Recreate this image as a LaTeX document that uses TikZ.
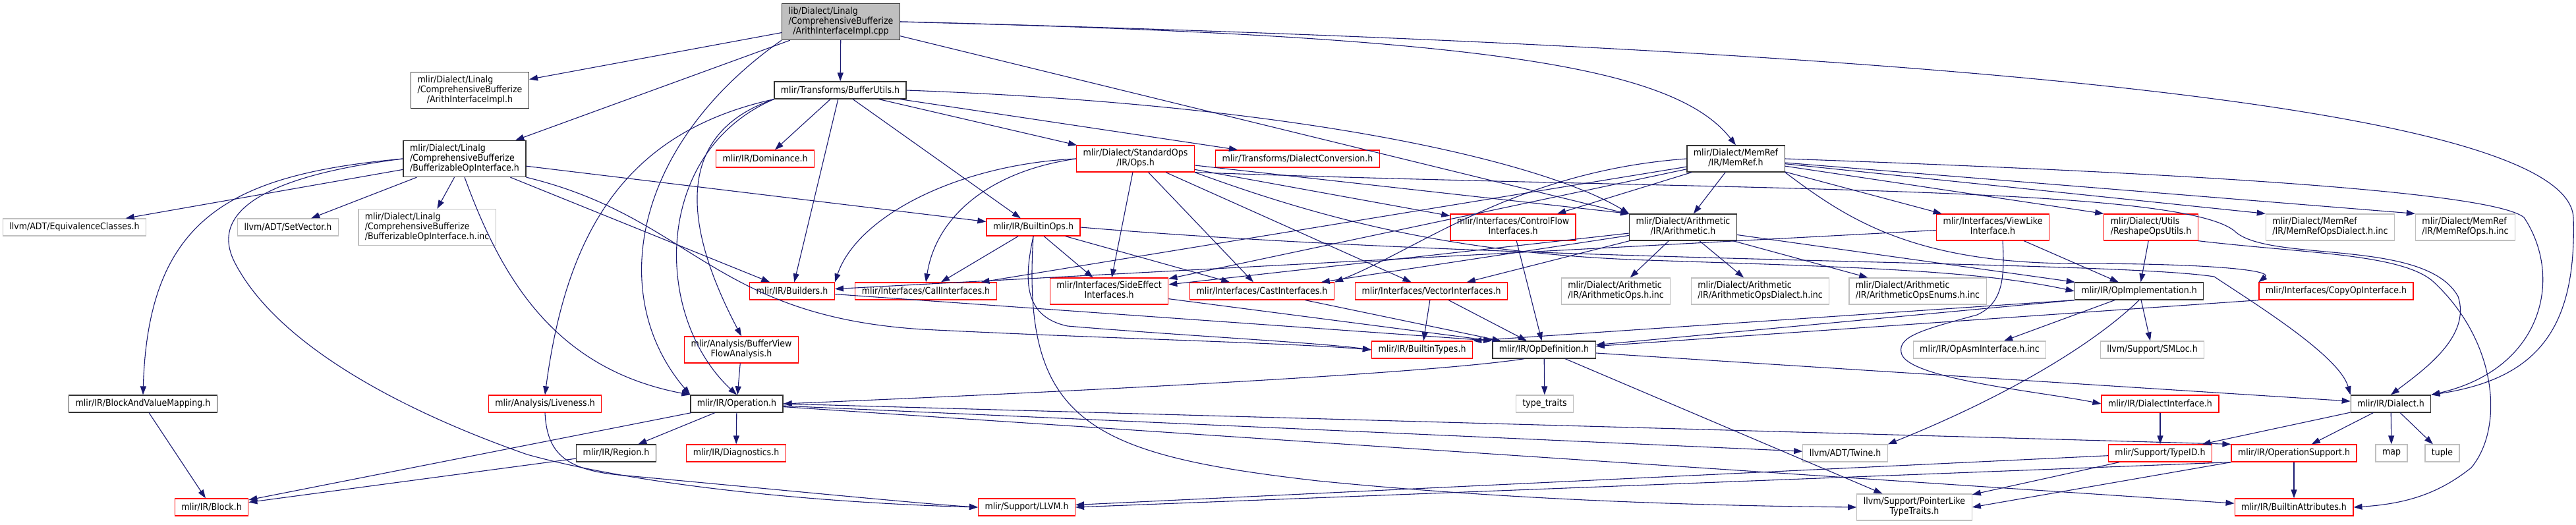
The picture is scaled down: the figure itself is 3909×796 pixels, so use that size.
\documentclass[tikz,border=0pt]{standalone}
\usepackage{fontspec}
\newfontfamily\doxfont{DejaVu Sans}[FakeStretch=0.9]
\usepackage{tikz}
\usetikzlibrary{arrows.meta}
\definecolor{edgeblue}{HTML}{191970}
\definecolor{boxgray}{HTML}{BFBFBF}
\definecolor{boxred}{HTML}{FF0000}

% label helpers: first lines left, last line centred
\newcommand{\twolines}[2]{\begin{tabular}{@{}l@{}}#1\\\multicolumn{1}{@{}c@{}}{#2}\end{tabular}}
\newcommand{\threelines}[3]{\begin{tabular}{@{}l@{}}#1\\#2\\\multicolumn{1}{@{}c@{}}{#3}\end{tabular}}

\begin{document}
\begin{tikzpicture}[
    x=1pt, y=-1pt,
    font=\doxfont\fontsize{14}{14.5}\selectfont,
    base_box/.style={rectangle, draw, line width=1.3pt, inner xsep=10pt, inner ysep=2pt, minimum height=26pt},
    doc_box/.style={base_box, draw=black!80},
    red_box/.style={base_box, draw=boxred},
    ext_box/.style={base_box, draw=boxgray},
    root_box/.style={base_box, draw=black!80, fill=boxgray},
    two/.style={minimum height=40pt},
    three/.style={minimum height=55pt},
    arrow/.style={draw=edgeblue, line width=1.1pt, -{Triangle[length=13pt, width=9pt]}}
]
\useasboundingbox (0,0) rectangle (3909,796);

% Rank 1-2
\node[root_box, three] (cpp_file) at (1276,33) {\threelines{lib/Dialect/Linalg}{/ComprehensiveBufferize}{/ArithInterfaceImpl.cpp}};
\node[doc_box, three] (arith_impl) at (713,137) {\threelines{mlir/Dialect/Linalg}{/ComprehensiveBufferize}{/ArithInterfaceImpl.h}};
\node[doc_box] (buffer_utils) at (1275,137) {mlir/Transforms/BufferUtils.h};

% Rank 3
\node[doc_box, three] (bufop_iface) at (705,241) {\threelines{mlir/Dialect/Linalg}{/ComprehensiveBufferize}{/BufferizableOpInterface.h}};
\node[red_box] (dominance) at (1161,241) {mlir/IR/Dominance.h};
\node[red_box, two] (std_ops) at (1723,241) {\twolines{mlir/Dialect/StandardOps}{/IR/Ops.h}};
\node[red_box] (dialect_conv) at (1969,241) {mlir/Transforms/DialectConversion.h};
\node[doc_box, two] (memref) at (2634,241) {\twolines{mlir/Dialect/MemRef}{/IR/MemRef.h}};

% Rank 4
\node[ext_box] (equiv_classes) at (113,345) {llvm/ADT/EquivalenceClasses.h};
\node[ext_box] (set_vector) at (437,345) {llvm/ADT/SetVector.h};
\node[ext_box, three] (bufop_inc) at (648,345) {\threelines{mlir/Dialect/Linalg}{/ComprehensiveBufferize}{/BufferizableOpInterface.h.inc}};
\node[red_box] (builtin_ops) at (1568,345) {mlir/IR/BuiltinOps.h};
\node[red_box, two] (control_flow) at (2296,345) {\twolines{mlir/Interfaces/ControlFlow}{Interfaces.h}};
\node[doc_box, two] (arith) at (2554,345) {\twolines{mlir/Dialect/Arithmetic}{/IR/Arithmetic.h}};
\node[red_box, two] (view_like) at (3024,345) {\twolines{mlir/Interfaces/ViewLike}{Interface.h}};
\node[red_box, two] (reshape_utils) at (3264,345) {\twolines{mlir/Dialect/Utils}{/ReshapeOpsUtils.h}};
\node[ext_box, two] (memref_dialect_inc) at (3536,345) {\twolines{mlir/Dialect/MemRef}{/IR/MemRefOpsDialect.h.inc}};
\node[ext_box, two] (memref_ops_inc) at (3741,345) {\twolines{mlir/Dialect/MemRef}{/IR/MemRefOps.h.inc}};

% Rank 5
\node[red_box] (builders) at (1202,442) {mlir/IR/Builders.h};
\node[red_box] (call_iface) at (1405,442) {mlir/Interfaces/CallInterfaces.h};
\node[red_box, two] (side_effect) at (1683,442) {\twolines{mlir/Interfaces/SideEffect}{Interfaces.h}};
\node[red_box] (cast_iface) at (1915,442) {mlir/Interfaces/CastInterfaces.h};
\node[red_box] (vector_iface) at (2172,442) {mlir/Interfaces/VectorInterfaces.h};
\node[ext_box, two] (arith_ops_inc) at (2452,442) {\twolines{mlir/Dialect/Arithmetic}{/IR/ArithmeticOps.h.inc}};
\node[ext_box, two] (arith_dialect_inc) at (2671,442) {\twolines{mlir/Dialect/Arithmetic}{/IR/ArithmeticOpsDialect.h.inc}};
\node[ext_box, two] (arith_enums_inc) at (2910,442) {\twolines{mlir/Dialect/Arithmetic}{/IR/ArithmeticOpsEnums.h.inc}};
\node[doc_box] (op_impl) at (3246,442) {mlir/IR/OpImplementation.h};
\node[red_box] (copy_op) at (3545,442) {mlir/Interfaces/CopyOpInterface.h};

% Rank 6
\node[red_box, two] (view_flow) at (1125,531) {\twolines{mlir/Analysis/BufferView}{FlowAnalysis.h}};
\node[red_box] (builtin_types) at (2158,531) {mlir/IR/BuiltinTypes.h};
\node[doc_box] (op_def) at (2343,531) {mlir/IR/OpDefinition.h};
\node[ext_box] (op_asm_inc) at (3004,531) {mlir/IR/OpAsmInterface.h.inc};
\node[ext_box] (sm_loc) at (3266,531) {llvm/Support/SMLoc.h};

% Rank 7
\node[doc_box] (block_mapping) at (217,613) {mlir/IR/BlockAndValueMapping.h};
\node[red_box] (liveness) at (827,613) {mlir/Analysis/Liveness.h};
\node[doc_box] (operation) at (1118,613) {mlir/IR/Operation.h};
\node[ext_box] (type_traits) at (2344,613) {type\_traits};
\node[red_box] (dialect_iface) at (3278,613) {mlir/IR/DialectInterface.h};
\node[doc_box] (dialect) at (3628,613) {mlir/IR/Dialect.h};

% Rank 8
\node[doc_box] (region) at (935,688) {mlir/IR/Region.h};
\node[red_box] (diagnostics) at (1117,688) {mlir/IR/Diagnostics.h};
\node[ext_box] (twine) at (2800,688) {llvm/ADT/Twine.h};
\node[red_box] (type_id) at (3278,688) {mlir/Support/TypeID.h};
\node[red_box] (op_support) at (3481,688) {mlir/IR/OperationSupport.h};
\node[ext_box] (std_map) at (3629,688) {map};
\node[ext_box] (std_tuple) at (3706,688) {tuple};

% Rank 9
\node[red_box] (block) at (321,770) {mlir/IR/Block.h};
\node[red_box] (llvm_h) at (1558,770) {mlir/Support/LLVM.h};
\node[ext_box, two] (pointer_like) at (2905,770) {\twolines{llvm/Support/PointerLike}{TypeTraits.h}};
\node[red_box] (builtin_attrs) at (3481,770) {mlir/IR/BuiltinAttributes.h};

% Connections from the source file
\draw[arrow] (cpp_file) -- (arith_impl);
\draw[arrow] (cpp_file) -- (bufop_iface);
\draw[arrow] (cpp_file) -- (buffer_utils);
\draw[arrow] (cpp_file.east) .. controls (2250,55) and (2540,100) .. (memref.north);
\draw[arrow] (cpp_file) -- (arith);
\draw[arrow] (cpp_file.south west) .. controls (960,220) and (920,450) .. (operation.north west);
\draw[arrow] (cpp_file.east) .. controls (2800,70) and (3895,150) .. (3905,330) .. controls (3910,500) and (3850,575) .. (dialect.north east);

% BufferizableOpInterface.h
\draw[arrow] (bufop_iface) -- (equiv_classes);
\draw[arrow] (bufop_iface) -- (set_vector);
\draw[arrow] (bufop_iface) -- (bufop_inc);
\draw[arrow] (bufop_iface) -- (builtin_ops);
\draw[arrow] (bufop_iface) -- (builders);
\draw[arrow] (bufop_iface.south east) .. controls (1050,330) and (1080,480) .. (1400,500) .. controls (1700,515) and (1950,520) .. (builtin_types.west);
\draw[arrow] (bufop_iface.south) .. controls (760,420) and (840,560) .. (operation.north west);
\draw[arrow] (bufop_iface.west) .. controls (350,265) and (225,330) .. (block_mapping.north);
\draw[arrow] (bufop_iface.west) .. controls (380,270) and (320,330) .. (357,400) .. controls (420,520) and (600,620) .. (800,690) .. controls (1000,745) and (1300,765) .. (llvm_h.west);

% BufferUtils.h
\draw[arrow] (buffer_utils) -- (dominance);
\draw[arrow] (buffer_utils) -- (std_ops);
\draw[arrow] (buffer_utils) -- (dialect_conv);
\draw[arrow] (buffer_utils) -- (builtin_ops);
\draw[arrow] (buffer_utils) -- (builders);
\draw[arrow] (buffer_utils.east) .. controls (2000,160) and (2350,250) .. (arith.north west);
\draw[arrow] (buffer_utils.south west) .. controls (950,200) and (860,350) .. (liveness.north);
\draw[arrow] (buffer_utils.south west) .. controls (1030,200) and (1030,330) .. (view_flow.north);
\draw[arrow] (buffer_utils.south west) .. controls (990,230) and (990,480) .. (operation.north);

% StandardOps/IR/Ops.h
\draw[arrow] (std_ops.west) .. controls (1450,250) and (1300,330) .. (builders.north east);
\draw[arrow] (std_ops.west) .. controls (1500,260) and (1420,330) .. (call_iface.north);
\draw[arrow] (std_ops) -- (side_effect);
\draw[arrow] (std_ops) -- (cast_iface);
\draw[arrow] (std_ops) -- (vector_iface);
\draw[arrow] (std_ops) -- (control_flow);
\draw[arrow] (std_ops) -- (arith.north west);
\draw[arrow] (std_ops.south east) .. controls (2000,330) and (2200,385) .. (2500,395) .. controls (2800,405) and (3000,410) .. (op_impl.west);
\draw[arrow] (std_ops.south east) .. controls (2600,290) and (3300,280) .. (3390,350) .. controls (3440,400) and (3680,360) .. (3730,450) .. controls (3750,510) and (3680,560) .. (dialect.north);

% MemRef.h
\draw[arrow] (memref) -- (arith);
\draw[arrow] (memref) -- (call_iface);
\draw[arrow] (memref) -- (side_effect);
\draw[arrow] (memref.west) .. controls (2300,260) and (2150,380) .. (cast_iface.north east);
\draw[arrow] (memref) -- (control_flow);
\draw[arrow] (memref) -- (view_like);
\draw[arrow] (memref) -- (reshape_utils.north west);
\draw[arrow] (memref) -- (memref_dialect_inc.north west);
\draw[arrow] (memref) -- (memref_ops_inc.north west);
\draw[arrow] (memref.south east) .. controls (2800,330) and (2900,400) .. (3150,400) .. controls (3350,400) and (3450,410) .. (copy_op.north west);
\draw[arrow] (memref.east) .. controls (3300,262) and (3780,290) .. (3830,330) .. controls (3890,420) and (3860,560) .. (dialect.north east);

% Arithmetic.h
\draw[arrow] (arith) -- (cast_iface);
\draw[arrow] (arith) -- (side_effect);
\draw[arrow] (arith) -- (vector_iface);
\draw[arrow] (arith) -- (op_impl);
\draw[arrow] (arith) -- (arith_ops_inc);
\draw[arrow] (arith) -- (arith_dialect_inc);
\draw[arrow] (arith) -- (arith_enums_inc);

% BuiltinOps.h
\draw[arrow] (builtin_ops) -- (call_iface);
\draw[arrow] (builtin_ops) -- (side_effect);
\draw[arrow] (builtin_ops) -- (cast_iface);
\draw[arrow] (builtin_ops.south) .. controls (1555,420) and (1550,480) .. (1620,495) .. controls (1800,510) and (2000,520) .. (builtin_types.west);
\draw[arrow] (builtin_ops.south) .. controls (1550,640) and (1650,690) .. (2000,730) .. controls (2300,760) and (2600,768) .. (pointer_like.west);
\draw[arrow] (builtin_ops.east) .. controls (2300,400) and (3200,395) .. (3360,420) .. controls (3420,460) and (3550,540) .. (dialect.north west);

% Interfaces
\draw[arrow] (control_flow) -- (op_def);
\draw[arrow] (view_like) -- (builders);
\draw[arrow] (view_like) -- (op_impl);
\draw[arrow] ([xshift=15pt]view_like.south) .. controls (3042,420) and (3040,460) .. (3000,478) .. controls (2920,500) and (2880,510) .. (2885,535) .. controls (2890,575) and (3100,595) .. (dialect_iface.west);
\draw[arrow] (reshape_utils) -- (op_impl);
\draw[arrow] (reshape_utils.south east) .. controls (3500,385) and (3650,385) .. (3695,430) .. controls (3790,520) and (3800,650) .. (3750,710) .. controls (3700,750) and (3650,765) .. (builtin_attrs.east);
\draw[arrow] (builders) -- (op_def.north west);
\draw[arrow] (side_effect) -- (op_def.north west);
\draw[arrow] (cast_iface) -- (op_def);
\draw[arrow] (vector_iface) -- (builtin_types);
\draw[arrow] (vector_iface) -- (op_def);
\draw[arrow] (copy_op.south west) -- (op_def);

% OpImplementation.h
\draw[arrow] (op_impl.south west) -- (op_def);
\draw[arrow] (op_impl.south west) -- (builtin_types.north east);
\draw[arrow] (op_impl) -- (op_asm_inc);
\draw[arrow] (op_impl) -- (sm_loc);
\draw[arrow] (op_impl.south) .. controls (3180,520) and (3050,600) .. (twine.north east);

% OpDefinition.h and below
\draw[arrow] (view_flow) -- (operation);
\draw[arrow] ([xshift=-30pt]op_def.south) .. controls (2150,570) and (1500,600) .. (operation.east);
\draw[arrow] (op_def) -- (type_traits);
\draw[arrow] (op_def) -- (dialect);
\draw[arrow] (op_def) -- (pointer_like);
\draw[arrow] (block_mapping) -- (block);
\draw[arrow] (liveness.south) .. controls (830,690) and (860,715) .. (950,722) .. controls (1200,745) and (1400,765) .. (llvm_h.west);

% Operation.h
\draw[arrow] (operation) -- (region);
\draw[arrow] (operation) -- (diagnostics);
\draw[arrow] (operation) -- (block);
\draw[arrow] (operation) -- (twine);
\draw[arrow] (operation.east) -- (op_support.north west);
\draw[arrow] (operation) -- (builtin_attrs);
\draw[arrow] (region) -- (block);

% Dialect.h
\draw[arrow] (dialect_iface) -- (type_id);
\draw[arrow] (dialect) -- (type_id);
\draw[arrow] (dialect) -- (op_support);
\draw[arrow] (dialect) -- (std_map);
\draw[arrow] (dialect) -- (std_tuple);

% Support headers
\draw[arrow] (type_id) -- (llvm_h);
\draw[arrow] (type_id) -- (pointer_like);
\draw[arrow] (op_support) -- (builtin_attrs);
\draw[arrow] (op_support.south west) -- (llvm_h.east);
\draw[arrow] (op_support.south west) -- (pointer_like.east);

\end{tikzpicture}
\end{document}
